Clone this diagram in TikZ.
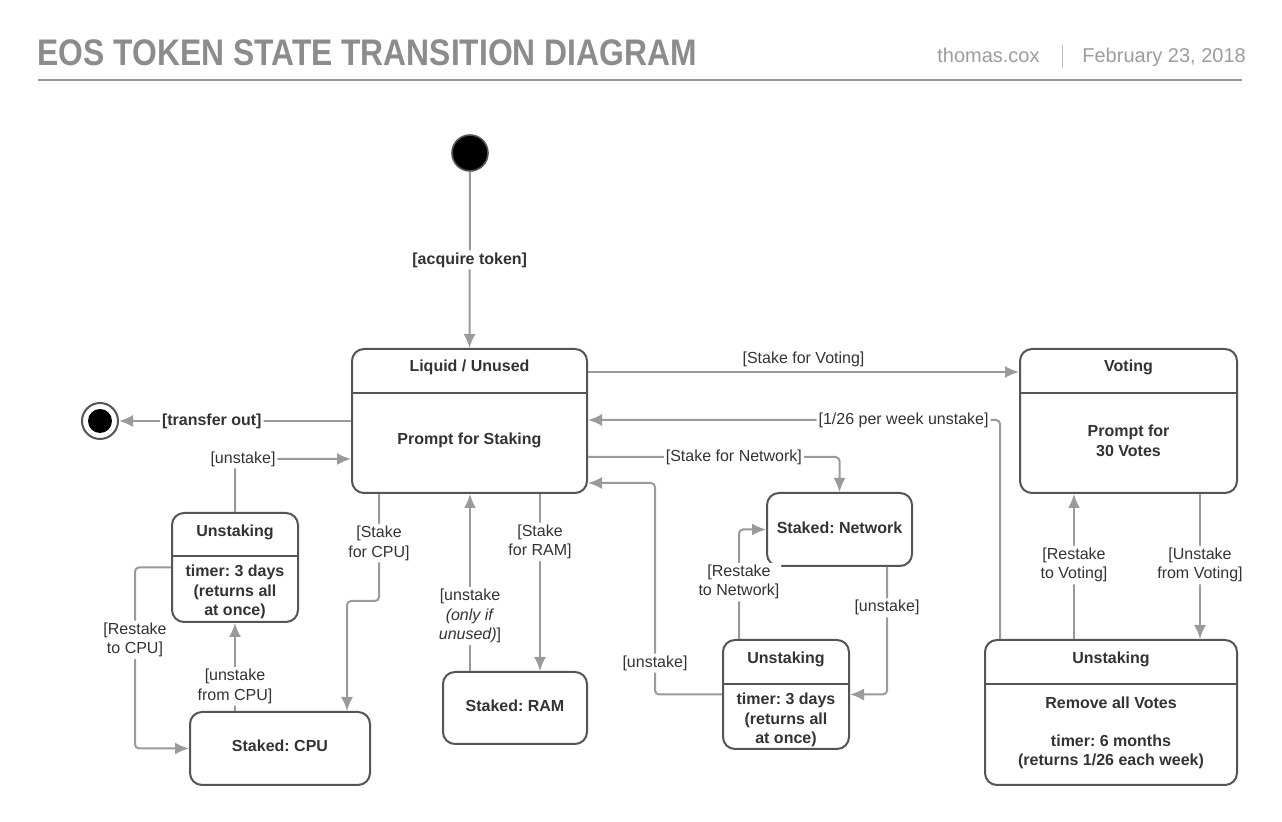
\documentclass[tikz,border=0pt]{standalone}
\usepackage{fontspec}
\setmainfont{Liberation Sans}
\usetikzlibrary{arrows.meta,positioning,calc}
\definecolor{linegray}{HTML}{9A9A9A}
\definecolor{boxgray}{HTML}{555555}
\definecolor{txtgray}{HTML}{333333}
\definecolor{headgray}{HTML}{8C8C8C}
\frenchspacing

\begin{document}
\begin{tikzpicture}[x=0.5pt, y=-0.5pt,
  state/.style={draw=boxgray, line width=1pt, rounded corners=6pt,
    inner sep=0pt, fill=white},
  ttl/.style={font=\fontsize{8}{9.8}\selectfont\bfseries, text=txtgray,
    align=center, inner sep=0pt},
  lbl/.style={font=\fontsize{8}{9.8}\selectfont, text=txtgray,
    align=center, fill=white, inner sep=1pt},
  lblb/.style={lbl, font=\fontsize{8}{9.8}\selectfont\bfseries},
  arr/.style={-{Latex[length=7pt,width=6pt]}, draw=linegray,
    line width=1pt, rounded corners=2pt},
  sep/.style={draw=boxgray, line width=1pt},
  head/.style={inner sep=0pt, text=headgray}
]
\useasboundingbox[fill=white] (0,0) rectangle (1282,822);

% Header
\node[head, anchor=base west, font=\fontsize{18.5}{20}\selectfont\bfseries]
  (title) at (37,66) {\scalebox{0.86}[1]{EOS TOKEN STATE TRANSITION DIAGRAM}};
\node[head, anchor=base east, text=headgray!85, font=\fontsize{10}{12}\selectfont]
  (author) at (1040,63) {thomas.cox};
\node[head, anchor=base west, text=headgray!85, font=\fontsize{10}{12}\selectfont]
  (date) at (1082,63) {February 23, 2018};
\draw[headgray!60, line width=0.5pt] (1062,45) -- (1062,68);
\draw[headgray!90, line width=0.6pt] (38,80) -- (1242,80);

% Pseudo states
\node[circle, fill=black, draw=boxgray, line width=0.8pt, minimum size=18pt,
  inner sep=0pt] (init) at (470,153) {};
\node[circle, draw=boxgray, line width=1pt, minimum size=18pt, inner sep=0pt]
  (final) at (100,421) {};
\node[circle, fill=black, minimum size=12pt, inner sep=0pt] (finaldot) at (final) {};

% States
\node[state, minimum width=117.5pt, minimum height=72pt] (liquid) at (469.5,421) {};
\node[ttl] (liquidttl) at (469.5,367) {Liquid / Unused};
\node[ttl] (liquidbody) at (469.5,440) {Prompt for Staking};
\draw[sep] (liquid.west |- 0,393) -- (liquid.east |- 0,393);

\node[state, minimum width=108.5pt, minimum height=72pt] (voting) at (1128.5,421) {};
\node[ttl] (votingttl) at (1128.5,367) {Voting};
\node[ttl] (votingbody) at (1128.5,441) {Prompt for\\30 Votes};
\draw[sep] (voting.west |- 0,393) -- (voting.east |- 0,393);

\node[state, minimum width=63pt, minimum height=54.5pt] (ucpu) at (235,567.5) {};
\node[ttl] (ucputtl) at (235,532) {Unstaking};
\node[ttl] (ucpubody) at (235,592) {timer: 3 days\\(returns all\\at once)};
\draw[sep] (ucpu.west |- 0,556) -- (ucpu.east |- 0,556);

\node[state, minimum width=90pt, minimum height=36.5pt] (cpu) at (280,748.5) {};
\node[ttl] (cputtl) at (280,746) {Staked: CPU};

\node[state, minimum width=72pt, minimum height=36pt] (ram) at (515,708) {};
\node[ttl] (ramttl) at (515,706) {Staked: RAM};

\node[state, minimum width=72.5pt, minimum height=36.5pt] (net) at (839.5,529.5) {};
\node[ttl] (netttl) at (839.5,528) {Staked: Network};

\node[state, minimum width=63pt, minimum height=54.5pt] (unet) at (786,694.5) {};
\node[ttl] (unetttl) at (786,659) {Unstaking};
\node[ttl] (unetbody) at (786,720) {timer: 3 days\\(returns all\\at once)};
\draw[sep] (unet.west |- 0,684) -- (unet.east |- 0,684);

\node[state, minimum width=126pt, minimum height=72.5pt] (uvote) at (1111,712.5) {};
\node[ttl] (uvotettl) at (1111,659) {Unstaking};
\node[ttl] (uvotebody) at (1111,703) {Remove all Votes};
\node[ttl] (uvotetimer) at (1111,752) {timer: 6 months\\(returns 1/26 each week)};
\draw[sep] (uvote.west |- 0,684) -- (uvote.east |- 0,684);

% Transitions
\draw[arr] (init) -- node[lblb, pos=0.5] {[acquire token]} (liquid.north);
\draw[arr] (liquid.west) -- node[lblb, pos=0.6] {[transfer out]} (final);
\draw[arr] (ucpu.north) |- node[lbl, pos=0.5, xshift=4pt] {[unstake]} (liquid.west |- 0,459);
\draw[arr] (ucpu.west) -| node[lbl, pos=0.7] {[Restake\\to CPU]} (135,748.5) -- (cpu.west);
\draw[arr] (cpu.north -| ucpu.south) -- node[lbl, pos=0.28] {[unstake\\from CPU]} (ucpu.south);
\draw[arr] (liquid.south -| 379,0) |- node[lbl, pos=0.23] {[Stake\\for CPU]} (347,601)
  -- (cpu.north -| 347,0);
\draw[arr] (ram.north -| 470,0) -- node[lbl, pos=0.31]
  {[unstake\\\textit{(only if}\\\textit{unused)}]} (liquid.south -| 470,0);
\draw[arr] (liquid.south -| 540,0) -- node[lbl, pos=0.27] {[Stake\\for RAM]} (ram.north -| 540,0);

\draw[arr] (liquid.east |- 0,372) -- node[lbl, above=1pt] {[Stake for Voting]} (voting.west |- 0,372);
\draw[arr] (uvote.north -| 1000,0) |- node[lbl, pos=0.617] {[1/26 per week unstake]} (liquid.east |- 0,420);
\draw[arr] (liquid.east |- 0,457) -| node[lbl, pos=0.29] {[Stake for Network]} (net.north);
\draw[arr] (unet.west) -| node[lbl, pos=0.574] {[unstake]} (655,483) -- (liquid.east |- 0,483);
\draw[arr] (net.south -| 887,0) |- node[lbl, pos=0.16] {[unstake]} (unet.east);
\draw[arr] (unet.north -| 739,0) |- node[lbl, pos=0.26] {[Restake\\to Network]} (net.west);
\draw[arr] (uvote.north -| 1074,0) -- node[lbl, pos=0.51] {[Restake\\to Voting]} (voting.south -| 1074,0);
\draw[arr] (voting.south -| 1200,0) -- node[lbl, pos=0.49] {[Unstake\\from Voting]} (uvote.north -| 1200,0);

\end{tikzpicture}
\end{document}
